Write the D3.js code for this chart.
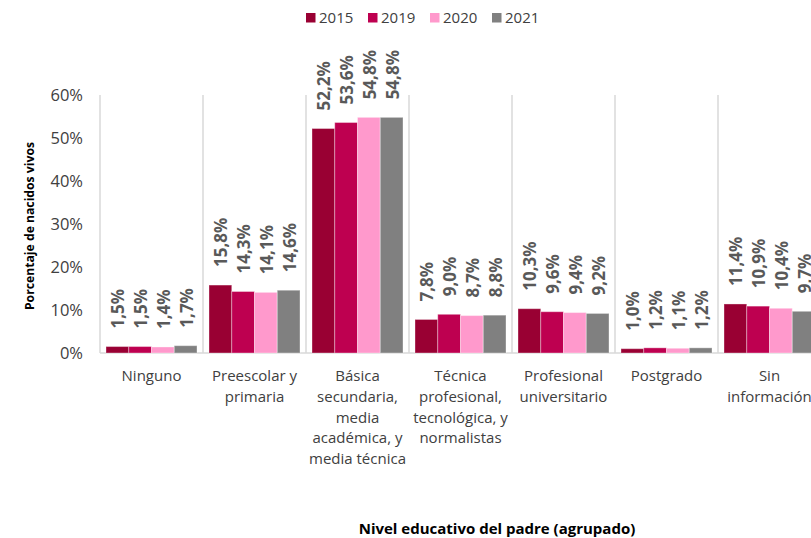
<!DOCTYPE html>
<html>
<head>
<meta charset="utf-8">
<script src="https://cdn.jsdelivr.net/npm/d3@7"></script>
<style>
  html, body { margin: 0; padding: 0; background: #fff; }
  svg { display: block; font-family: "Open Sans", "Noto Sans", sans-serif; }
</style>
</head>
<body>
<svg id="chart" width="811" height="538"></svg>
<script>
// Categories (line breaks mark the wrapped axis labels)
const categories = [
  "Ninguno",
  "Preescolar y\nprimaria",
  "Básica\nsecundaria,\nmedia\nacadémica, y\nmedia técnica",
  "Técnica\nprofesional,\ntecnológica, y\nnormalistas",
  "Profesional\nuniversitario",
  "Postgrado",
  "Sin\ninformación"
];
const seriesNames = ["2015", "2019", "2020", "2021"];
const values2015 = [1.5, 15.8, 52.2, 7.8, 10.3, 1.0, 11.4];
const values2019 = [1.5, 14.3, 53.6, 9.0, 9.6, 1.2, 10.9];
const values2020 = [1.4, 14.1, 54.8, 8.7, 9.4, 1.1, 10.4];
const values2021 = [1.7, 14.6, 54.8, 8.8, 9.2, 1.2, 9.7];
const yTicks = [0, 10, 20, 30, 40, 50, 60];
const colors = ["#990033", "#BE0050", "#FF99CC", "#808080"];

const seriesValues = [values2015, values2019, values2020, values2021];
const rows = categories.map((c, i) => ({
  cat: c,
  vals: seriesNames.map((s, j) => ({ key: s, value: seriesValues[j][i] }))
}));

const svg = d3.select("#chart");
const fmt = v => d3.format(".1f")(v).replace(".", ",") + "%";

const x0 = d3.scaleBand().domain(categories).range([100, 821]).paddingInner(0).paddingOuter(0);
const x1 = d3.scaleBand().domain(seriesNames).range([6, x0.bandwidth() - 6]).padding(0);
const y = d3.scaleLinear().domain([0, 60]).range([353, 95]);

// Category separators
const seps = categories.map(c => x0(c)).concat([x0.range()[1]]);
svg.append("g").selectAll("line").data(seps).join("line")
  .attr("x1", d => d).attr("x2", d => d)
  .attr("y1", y(60)).attr("y2", y(0))
  .attr("stroke", "#d9d9d9").attr("stroke-width", 1.5);

// Baseline
svg.append("line")
  .attr("x1", 100).attr("x2", 821)
  .attr("y1", y(0)).attr("y2", y(0))
  .attr("stroke", "#d9d9d9").attr("stroke-width", 1.5);

// Y axis (labels only)
const yAxis = d3.axisLeft(y).tickValues(yTicks).tickFormat(d => d + "%").tickSize(0).tickPadding(0);
const gy = svg.append("g").attr("transform", "translate(83,0)").call(yAxis);
gy.select(".domain").remove();
gy.selectAll("text").attr("font-size", 16.5).attr("fill", "#404040")
  .attr("font-family", "'Open Sans', sans-serif");

// Bars
const groups = svg.append("g").selectAll("g").data(rows).join("g")
  .attr("transform", d => `translate(${x0(d.cat)},0)`);

groups.selectAll("rect").data(d => d.vals).join("rect")
  .attr("x", d => x1(d.key))
  .attr("y", d => y(d.value))
  .attr("width", x1.bandwidth())
  .attr("height", d => y(0) - y(d.value))
  .attr("fill", (d, i) => colors[i])
  .attr("stroke", "#ffffff").attr("stroke-opacity", 0.35).attr("stroke-width", 1);

// Value labels, rotated
groups.selectAll("text.val").data(d => d.vals).join("text")
  .attr("class", "val")
  .attr("transform", d => `translate(${x1(d.key) + x1.bandwidth() / 2 + 7},${y(d.value) - 18}) rotate(-90)`)
  .attr("text-anchor", "start")
  .attr("font-size", 17).attr("font-weight", "bold").attr("fill", "#595959")
  .text(d => fmt(d.value));

// Category labels
groups.append("text")
  .attr("text-anchor", "middle")
  .attr("font-size", 15).attr("fill", "#404040")
  .selectAll("tspan").data(d => d.cat.split("\n")).join("tspan")
  .attr("x", x0.bandwidth() / 2)
  .attr("y", (d, i) => 381 + i * 20.8)
  .text(d => d);

// Axis titles
svg.append("text")
  .attr("transform", "translate(34,226) rotate(-90)")
  .attr("text-anchor", "middle")
  .attr("font-size", 12.2).attr("font-weight", "bold").attr("fill", "#000")
  .text("Porcentaje de nacidos vivos");

svg.append("text")
  .attr("x", 497).attr("y", 534)
  .attr("text-anchor", "middle")
  .attr("font-size", 15).attr("font-weight", "bold").attr("fill", "#000")
  .text("Nivel educativo del padre (agrupado)");

// Legend
const legendX = [306, 368, 430, 492];
const lg = svg.append("g").selectAll("g").data(seriesNames).join("g")
  .attr("transform", (d, i) => `translate(${legendX[i]},0)`);
lg.append("rect").attr("x", 0).attr("y", 13).attr("width", 9.5).attr("height", 9.5)
  .attr("fill", (d, i) => colors[i]);
lg.append("text").attr("x", 13).attr("y", 23)
  .attr("font-size", 15).attr("fill", "#404040").text(d => d);
</script>
</body>
</html>
